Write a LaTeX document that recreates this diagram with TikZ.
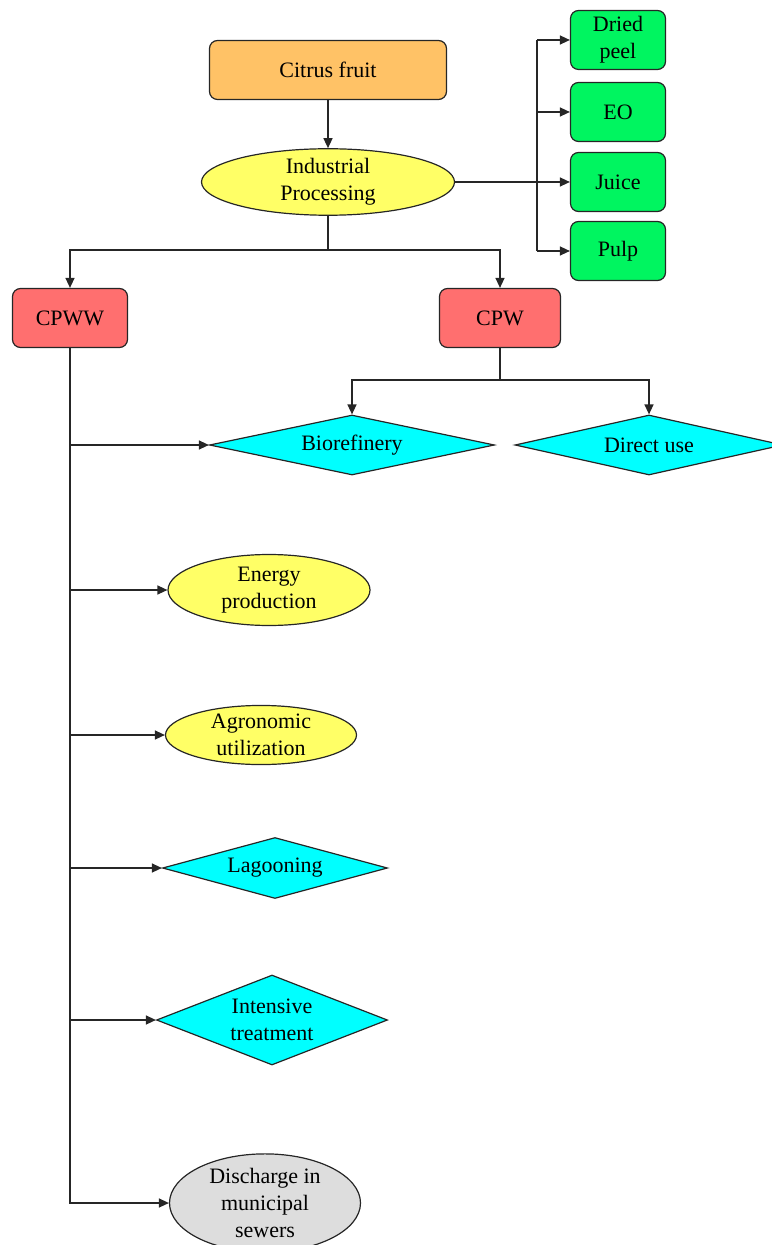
\documentclass[tikz,border=0pt]{standalone}
\usepackage{fontspec}
\setmainfont{LiberationSerif}[Extension=.ttf, UprightFont=*-Regular, BoldFont=*-Bold]
\usetikzlibrary{shapes.geometric, arrows.meta, positioning}
\definecolor{citrus}{RGB}{255,194,102}
\definecolor{process}{RGB}{255,255,102}
\definecolor{product}{RGB}{0,245,96}
\definecolor{waste}{RGB}{255,111,111}
\definecolor{reuse}{RGB}{0,255,255}
\definecolor{sewer}{RGB}{221,221,221}
\tikzset{
  base/.style={
    draw=black!85,
    line width=0.6pt,
    align=center,
    inner sep=0pt,
    font=\fontsize{11}{13.5}\selectfont,
  },
  round box/.style={base, rounded corners=4pt, minimum width={#1}, minimum height=29.5pt},
  oval/.style 2 args={base, ellipse, minimum width={#1}, minimum height={#2}},
  rhomb/.style n args={3}{base, diamond, fill=reuse, aspect=#3, minimum width={#1}, minimum height={#2}},
  flow/.style={draw=black!85, line width=0.7pt, -{Triangle[length=5pt,width=4.5pt]}},
  link/.style={draw=black!85, line width=0.7pt},
}
\begin{document}
\begin{tikzpicture}[x=0.5pt, y=-0.5pt]
  \useasboundingbox (0,0) rectangle (771,1245);
  % main line
  \node [round box=118.5pt, fill=citrus] (fruit) at (328,70) {Citrus fruit};
  \node [oval={126.5pt}{29.5pt}, fill=process] (proc) at (328,182) {Industrial\\Processing};
  % products
  \node [round box=47.5pt, fill=product] (peel) at (618,40) {Dried\\peel};
  \node [round box=47.5pt, fill=product] (eo) at (618,112) {EO};
  \node [round box=47.5pt, fill=product] (juice) at (618,182) {Juice};
  \node [round box=47.5pt, fill=product] (pulp) at (618,251) {Pulp};
  % wastes
  \node [round box=57.5pt, fill=waste] (cpww) at (70,318) {CPWW};
  \node [round box=60.5pt, fill=waste] (cpw) at (500,318) {CPW};
  % CPW uses
  \node [rhomb={142.5pt}{30pt}{4.75}] (bio) at (352,445) {Biorefinery};
  \node [rhomb={134pt}{30pt}{4.47}] (direct) at (649,445) {Direct use};
  % CPWW uses
  \node [oval={101pt}{35.5pt}, fill=process] (energy) at (269,590) {Energy\\production};
  \node [oval={95.5pt}{28.5pt}, fill=process] (agro) at (261,735) {Agronomic\\utilization};
  \node [rhomb={112.5pt}{30.5pt}{3.7}] (lagoon) at (275,868) {Lagooning};
  \node [rhomb={115.5pt}{45pt}{2.57}] (intens) at (272,1020) {Intensive\\treatment};
  \node [oval={95.5pt}{43pt}, fill=sewer] (disch) at (265,1203) {Discharge in\\municipal\\sewers};
  % connectors
  \coordinate (bus) at (537,0);
  \draw [flow] (fruit) -- (proc);
  \draw [flow] (proc.east) -- (juice.west);
  \draw [link] (bus |- peel.west) -- (bus |- pulp.west);
  \foreach \p in {peel, eo, pulp}
    \draw [flow] (bus |- \p.west) -- (\p.west);
  \coordinate (split) at (328,250);
  \draw [link] (proc.south) -- (split);
  \draw [flow] (split) -| (cpww.north);
  \draw [flow] (split) -| (cpw.north);
  \coordinate (fork) at (500,380);
  \draw [link] (cpw.south) -- (fork);
  \draw [flow] (fork) -| (bio.north);
  \draw [flow] (fork) -| (direct.north);
  \draw [flow] (cpww.south) |- (disch.west);
  \foreach \u in {bio, energy, agro, lagoon, intens}
    \draw [flow] (cpww.south |- \u.west) -- (\u.west);
\end{tikzpicture}
\end{document}
